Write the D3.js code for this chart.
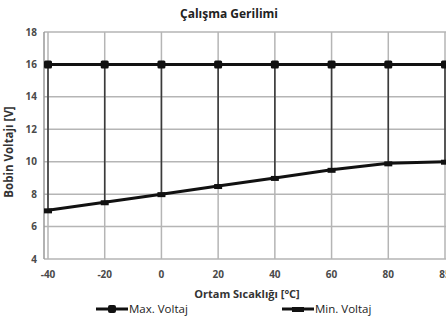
<!DOCTYPE html>
<html>
<head>
<meta charset="utf-8">
<script src="https://cdn.jsdelivr.net/npm/d3@7"></script>
<style>
  body { margin: 0; background: #fff; }
  text { font-family: "Open Sans", sans-serif; }
</style>
</head>
<body>
<div id="chart"></div>
<script>
/* DATA */
const temps = ["-40", "-20", "0", "20", "40", "60", "80", "85"];
const maxVoltaj = [16, 16, 16, 16, 16, 16, 16, 16];
const minVoltaj = [7, 7.5, 8, 8.5, 9, 9.5, 9.9, 10];
const yTicks = [4, 6, 8, 10, 12, 14, 16, 18];

const width = 446,
  height = 318,
  margin = { top: 32, bottom: 59, left: 44, right: -6 };

const svg = d3.select("#chart").append("svg")
  .attr("width", width)
  .attr("height", height);

const xScale = d3.scalePoint()
  .domain(temps)
  .range([48, 445]);

const yScale = d3.scaleLinear()
  .domain([4, 18])
  .range([height - margin.bottom, margin.top]);

// gridlines
svg.append("g")
  .selectAll("line")
  .data(yTicks)
  .join("line")
  .attr("x1", margin.left)
  .attr("x2", width - margin.right)
  .attr("y1", d => yScale(d))
  .attr("y2", d => yScale(d))
  .attr("stroke", "#b5b5b5")
  .attr("stroke-width", 1.5);

svg.append("g")
  .selectAll("line")
  .data(temps)
  .join("line")
  .attr("x1", d => xScale(d))
  .attr("x2", d => xScale(d))
  .attr("y1", margin.top)
  .attr("y2", height - margin.bottom)
  .attr("stroke", "#b5b5b5")
  .attr("stroke-width", 1.5);

// left axis line
svg.append("line")
  .attr("x1", margin.left).attr("x2", margin.left)
  .attr("y1", margin.top).attr("y2", height - margin.bottom)
  .attr("stroke", "#999").attr("stroke-width", 1.5);

// high-low lines
svg.append("g")
  .selectAll("line")
  .data(temps)
  .join("line")
  .attr("x1", d => xScale(d))
  .attr("x2", d => xScale(d))
  .attr("y1", (d, i) => yScale(maxVoltaj[i]))
  .attr("y2", (d, i) => yScale(minVoltaj[i]))
  .attr("stroke", "#3a3a3a")
  .attr("stroke-width", 1.6);

// y tick labels
svg.append("g")
  .selectAll("text")
  .data(yTicks)
  .join("text")
  .attr("x", 37)
  .attr("y", d => yScale(d))
  .attr("dy", "0.35em")
  .attr("text-anchor", "end")
  .attr("font-size", 10)
  .attr("font-weight", "bold")
  .attr("fill", "#4a4a4a")
  .text(d => d);

// x tick labels
svg.append("g")
  .selectAll("text")
  .data(temps)
  .join("text")
  .attr("x", d => xScale(d))
  .attr("y", 278)
  .attr("text-anchor", "middle")
  .attr("font-size", 10)
  .attr("font-weight", "bold")
  .attr("fill", "#4a4a4a")
  .text(d => d);

// lines
const line = d3.line()
  .x((d, i) => xScale(temps[i]))
  .y(d => yScale(d));

svg.append("path")
  .datum(maxVoltaj)
  .attr("d", line)
  .attr("fill", "none")
  .attr("stroke", "#111")
  .attr("stroke-width", 3);

svg.append("path")
  .datum(minVoltaj)
  .attr("d", line)
  .attr("fill", "none")
  .attr("stroke", "#111")
  .attr("stroke-width", 3);

// markers
svg.append("g")
  .selectAll("rect")
  .data(maxVoltaj)
  .join("rect")
  .attr("x", (d, i) => xScale(temps[i]) - 4)
  .attr("y", d => yScale(d) - 4)
  .attr("width", 8)
  .attr("height", 8)
  .attr("rx", 1.5)
  .attr("fill", "#111");

svg.append("g")
  .selectAll("rect")
  .data(minVoltaj)
  .join("rect")
  .attr("x", (d, i) => xScale(temps[i]) - 4)
  .attr("y", d => yScale(d) - 2)
  .attr("width", 8)
  .attr("height", 5)
  .attr("fill", "#111");

// titles
svg.append("text")
  .attr("x", 229).attr("y", 18)
  .attr("text-anchor", "middle")
  .attr("font-size", 12)
  .attr("font-weight", "bold")
  .attr("fill", "#222")
  .text("Çalışma Gerilimi");

svg.append("text")
  .attr("transform", "translate(13,152) rotate(-90)")
  .attr("text-anchor", "middle")
  .attr("font-size", 11.5)
  .attr("font-weight", "bold")
  .attr("fill", "#333")
  .text("Bobin Voltajı [V]");

svg.append("text")
  .attr("x", 247).attr("y", 298)
  .attr("text-anchor", "middle")
  .attr("font-size", 11)
  .attr("font-weight", "bold")
  .attr("fill", "#333")
  .text("Ortam Sıcaklığı [°C]");

// legend
const legend = [
  { name: "Max. Voltaj", x: 96, marker: "square" },
  { name: "Min. Voltaj", x: 282, marker: "dash" }
];
const lg = svg.append("g")
  .selectAll("g")
  .data(legend)
  .join("g")
  .attr("transform", d => `translate(${d.x},309)`);

lg.append("line")
  .attr("x1", 0).attr("x2", 32)
  .attr("stroke", "#111").attr("stroke-width", 3);

lg.append("rect")
  .attr("x", d => d.marker === "square" ? 12 : 10)
  .attr("y", d => d.marker === "square" ? -4 : -2)
  .attr("width", d => d.marker === "square" ? 8 : 12)
  .attr("height", d => d.marker === "square" ? 8 : 5)
  .attr("rx", d => d.marker === "square" ? 2 : 0)
  .attr("fill", "#111");

lg.append("text")
  .attr("x", 33)
  .attr("dy", "0.35em")
  .attr("font-size", 11.5)
  .attr("fill", "#222")
  .text(d => d.name);
</script>
</body>
</html>
